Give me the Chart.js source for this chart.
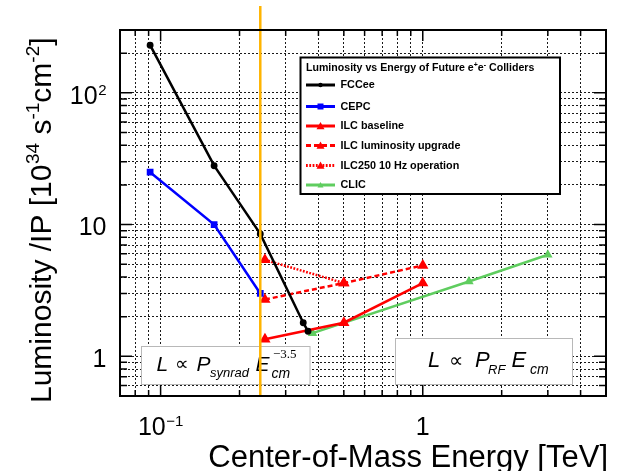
<!DOCTYPE html>
<html>
<head>
<meta charset="utf-8">
<script src="https://cdn.jsdelivr.net/npm/chart.js@4.4.1/dist/chart.umd.min.js"></script>
<style>
html,body{margin:0;padding:0;background:#fff;}
canvas{display:block;}
</style>
</head>
<body>
<canvas id="c" width="619" height="471" style="width:619px;height:471px"></canvas>
<script>
// ---- data ----
const fccEnergy = [0.0912, 0.160, 0.240, 0.350, 0.365];
const fccLumi   = [230, 28, 8.5, 1.8, 1.55];
const cepcEnergy = [0.0912, 0.160, 0.240];
const cepcLumi   = [25, 10, 3.0];
const ilcEnergy = [0.25, 0.5, 1.0];
const ilcLumi   = [1.35, 1.8, 3.6];
const ilcUpEnergy = [0.25, 0.5, 1.0];
const ilcUpLumi   = [2.7, 3.6, 4.9];
const ilc10Energy = [0.25, 0.5];
const ilc10Lumi   = [5.4, 3.6];
const clicEnergy = [0.38, 1.5, 3.0];
const clicLumi   = [1.5, 3.7, 5.9];
const higgsLine = 0.24;
const xRange = [0.07, 5];
const yRange = [0.5, 300];
const xTickLabels = [0.1, 1];
const yTickLabels = [1, 10, 100];
const seriesNames = ['FCCee','CEPC','ILC baseline','ILC luminosity upgrade','ILC250 10 Hz operation','CLIC'];

const pts = (xs, ys) => xs.map((x, i) => ({x, y: ys[i]}));

function logTicks(min, max) {
  const out = [];
  for (let e = Math.floor(Math.log10(min)); e <= Math.ceil(Math.log10(max)); e++) {
    for (let m = 1; m <= 9; m++) {
      const v = +(m * Math.pow(10, e)).toPrecision(6);
      if (v >= min - 1e-9 && v <= max + 1e-9) out.push(v);
    }
  }
  return out;
}
const isMajor = v => Math.abs(Math.log10(v) - Math.round(Math.log10(v))) < 1e-6;

const SANS = '"Liberation Sans", Arial, Helvetica, sans-serif';
const SERIF = '"Liberation Serif", "Times New Roman", serif';

function runs(ctx, x, y, list) {
  let cx = x;
  for (const r of list) {
    ctx.font = r.font;
    ctx.fillText(r.t, cx + (r.dx || 0), y + (r.dy || 0));
    cx += ctx.measureText(r.t).width + (r.dx || 0);
  }
  return cx;
}
function runsWidth(ctx, list) {
  let w = 0;
  for (const r of list) { ctx.font = r.font; w += ctx.measureText(r.t).width + (r.dx || 0); }
  return w;
}

const decor = {
  id: 'decor',
  afterDatasetsDraw(chart) {
    const ctx = chart.ctx;
    const a = chart.chartArea;
    const xs = chart.scales.x, ys = chart.scales.y;
    ctx.save();
    // formula boxes
    ctx.fillStyle = '#fff';
    ctx.strokeStyle = '#b8b8b8';
    ctx.lineWidth = 1;
    ctx.fillRect(141.5, 346.5, 168.5, 38);
    ctx.strokeRect(141.5, 346.5, 168.5, 38);
    ctx.fillRect(395.5, 338.5, 177, 46);
    ctx.strokeRect(395.5, 338.5, 177, 46);
    ctx.fillStyle = '#000';
    ctx.textBaseline = 'alphabetic';
    ctx.textAlign = 'left';
    ctx.font = 'italic 21px ' + SANS; ctx.fillText('L', 156.5, 371);
    ctx.font = '19px ' + SANS; ctx.fillText('\u221D', 175, 370);
    ctx.font = 'italic 21px ' + SANS; ctx.fillText('P', 196.5, 371);
    ctx.font = 'italic 13px ' + SANS; ctx.fillText('synrad', 210, 377);
    ctx.font = 'italic 21px ' + SANS; ctx.fillText('E', 255.5, 371);
    ctx.font = 'italic 14px ' + SANS; ctx.fillText('cm', 271.5, 377.5);
    ctx.font = '13px ' + SERIF; ctx.fillText('\u22123.5', 273, 358);

    ctx.font = 'italic 22px ' + SANS; ctx.fillText('L', 428, 367.3);
    ctx.font = '20px ' + SANS; ctx.fillText('\u221D', 449, 366.5);
    ctx.font = 'italic 22px ' + SANS; ctx.fillText('P', 475, 367.3);
    ctx.font = 'italic 13px ' + SANS; ctx.fillText('RF', 488, 374);
    ctx.font = 'italic 22px ' + SANS; ctx.fillText('E', 511.5, 367.3);
    ctx.font = 'italic 14px ' + SANS; ctx.fillText('cm', 530, 374);

    // vertical line at the Higgs-factory energy
    const hx = xs.getPixelForValue(higgsLine);
    ctx.strokeStyle = 'rgb(255,180,0)';
    ctx.lineWidth = 2.5;
    ctx.beginPath(); ctx.moveTo(hx, 6); ctx.lineTo(hx, a.bottom); ctx.stroke();

    // frame
    ctx.strokeStyle = '#000';
    ctx.lineWidth = 2;
    ctx.strokeRect(a.left, a.top, a.right - a.left, a.bottom - a.top);

    // tick marks on all sides
    ctx.lineWidth = 1.5;
    ctx.beginPath();
    for (const t of xs.ticks) {
      const px = xs.getPixelForValue(t.value);
      if (px <= a.left + 1 || px >= a.right - 1) continue;
      const L = isMajor(t.value) ? 11 : 6;
      ctx.moveTo(px, a.bottom); ctx.lineTo(px, a.bottom - L);
      ctx.moveTo(px, a.top); ctx.lineTo(px, a.top + L);
    }
    for (const t of ys.ticks) {
      const py = ys.getPixelForValue(t.value);
      if (py <= a.top + 1 || py >= a.bottom - 1) continue;
      const L = isMajor(t.value) ? 12 : 7;
      ctx.moveTo(a.left, py); ctx.lineTo(a.left + L, py);
      ctx.moveTo(a.right, py); ctx.lineTo(a.right - L, py);
    }
    ctx.stroke();

    // legend
    const lx = 300.5, ly = 57.5, lw = 259.5, lh = 136.5;
    ctx.fillStyle = '#fff';
    ctx.fillRect(lx, ly, lw, lh);
    ctx.strokeStyle = '#000'; ctx.lineWidth = 2;
    ctx.strokeRect(lx, ly, lw, lh);
    ctx.fillStyle = '#000';
    const TB = 'bold 10.6px ' + SANS, TS = 'bold 7px ' + SANS;
    runs(ctx, 306, 71, [
      {t: 'Luminosity vs Energy of Future e', font: TB},
      {t: '+', font: TS, dy: -4},
      {t: 'e', font: TB},
      {t: '-', font: TS, dy: -4},
      {t: ' Colliders', font: TB}
    ]);
    const rowY = [85, 106.5, 126, 145.5, 165.5, 185];
    chart.data.datasets.forEach((ds, i) => {
      const y = rowY[i];
      ctx.strokeStyle = ds.borderColor;
      ctx.lineWidth = 3;
      ctx.setLineDash(ds.borderDash || []);
      ctx.beginPath(); ctx.moveTo(306, y); ctx.lineTo(335, y); ctx.stroke();
      ctx.setLineDash([]);
      ctx.fillStyle = ds.borderColor;
      const r = ds.pointRadius;
      ctx.beginPath();
      if (ds.pointStyle === 'circle') { ctx.arc(320.5, y, r, 0, Math.PI * 2); }
      else if (ds.pointStyle === 'rect') { ctx.rect(320.5 - r, y - r, 2 * r, 2 * r); }
      else { ctx.moveTo(320.5, y - r); ctx.lineTo(320.5 + r, y + r * 0.8); ctx.lineTo(320.5 - r, y + r * 0.8); ctx.closePath(); }
      ctx.fill();
      ctx.fillStyle = '#000';
      ctx.font = 'bold 10.8px ' + SANS;
      ctx.textBaseline = 'middle';
      ctx.fillText(ds.label, 340.5, y + 0.5);
      ctx.textBaseline = 'alphabetic';
    });

    // tick labels
    ctx.fillStyle = '#000';
    const TF = '25px ' + SANS, SF = '15px ' + SANS;
    const fmt = v => {
      const e = Math.round(Math.log10(v));
      if (e === 0) return [{t: '1', font: TF}];
      if (e === 1) return [{t: '10', font: TF}];
      return [{t: '10', font: TF}, {t: (e < 0 ? '\u2212' : '') + Math.abs(e), font: SF, dy: -9, dx: 0.5}];
    };
    for (const v of xTickLabels) {
      const px = xs.getPixelForValue(v);
      const r = fmt(v);
      const w = runsWidth(ctx, r);
      runs(ctx, px - w / 2, 435, r);
    }
    for (const v of yTickLabels) {
      const py = ys.getPixelForValue(v);
      const r = fmt(v);
      const w = runsWidth(ctx, r);
      runs(ctx, 106.5 - w, py + 10.7, r);
    }

    // axis titles
    ctx.font = '31px ' + SANS;
    ctx.textAlign = 'right';
    ctx.fillText('Center-of-Mass Energy [TeV]', 608, 467);
    ctx.textAlign = 'left';
    ctx.save();
    ctx.translate(51, 403);
    ctx.rotate(-Math.PI / 2);
    const YF = '30px ' + SANS, YS = '19px ' + SANS;
    runs(ctx, 0, 0, [
      {t: 'Luminosity /IP [10', font: YF},
      {t: '34', font: YS, dy: -12, dx: 0.5},
      {t: ' s', font: YF},
      {t: '-1', font: YS, dy: -12},
      {t: 'cm', font: YF},
      {t: '-2', font: YS, dy: -12},
      {t: ']', font: YF}
    ]);
    ctx.restore();
    ctx.restore();
  }
};

const gridOpts = {color: 'rgba(0,0,0,0.9)', lineWidth: 1, drawTicks: false};
const chart = new Chart(document.getElementById('c'), {
  type: 'scatter',
  data: {
    datasets: [
      {label: seriesNames[0], data: pts(fccEnergy, fccLumi), borderColor: '#000', backgroundColor: '#000',
       borderWidth: 2.5, pointStyle: 'circle', pointRadius: 2.2, showLine: true},
      {label: seriesNames[1], data: pts(cepcEnergy, cepcLumi), borderColor: 'rgb(0,0,255)', backgroundColor: 'rgb(0,0,255)',
       borderWidth: 2.5, pointStyle: 'rect', pointRadius: 3, showLine: true},
      {label: seriesNames[2], data: pts(ilcEnergy, ilcLumi), borderColor: 'rgb(255,0,0)', backgroundColor: 'rgb(255,0,0)',
       borderWidth: 2.5, pointStyle: 'triangle', pointRadius: 4, showLine: true},
      {label: seriesNames[3], data: pts(ilcUpEnergy, ilcUpLumi), borderColor: 'rgb(255,0,0)', backgroundColor: 'rgb(255,0,0)',
       borderWidth: 2.5, borderDash: [5, 3], pointStyle: 'triangle', pointRadius: 4, showLine: true},
      {label: seriesNames[4], data: pts(ilc10Energy, ilc10Lumi), borderColor: 'rgb(255,0,0)', backgroundColor: 'rgb(255,0,0)',
       borderWidth: 2.5, borderDash: [1.8, 1.5], pointStyle: 'triangle', pointRadius: 4, showLine: true},
      {label: seriesNames[5], data: pts(clicEnergy, clicLumi), borderColor: 'rgb(95,205,95)', backgroundColor: 'rgb(95,205,95)',
       borderWidth: 2.5, pointStyle: 'triangle', pointRadius: 3, showLine: true}
    ]
  },
  options: {
    responsive: false,
    animation: false,
    devicePixelRatio: 1,
    layout: {padding: {left: 120, top: 30, right: 13, bottom: 75}},
    plugins: {legend: {display: false}, tooltip: {enabled: false}, title: {display: false}},
    elements: {point: {borderWidth: 0}, line: {tension: 0}},
    scales: {
      x: {type: 'logarithmic', min: xRange[0], max: xRange[1],
          ticks: {display: false}, grid: gridOpts, border: {display: false, dash: [2, 2]},
          afterBuildTicks: s => { s.ticks = logTicks(xRange[0], xRange[1]).map(v => ({value: v})); }},
      y: {type: 'logarithmic', min: yRange[0], max: yRange[1],
          ticks: {display: false}, grid: gridOpts, border: {display: false, dash: [2, 2]},
          afterBuildTicks: s => { s.ticks = logTicks(yRange[0], yRange[1]).map(v => ({value: v})); }}
    }
  },
  plugins: [decor]
});
</script>
</body>
</html>
